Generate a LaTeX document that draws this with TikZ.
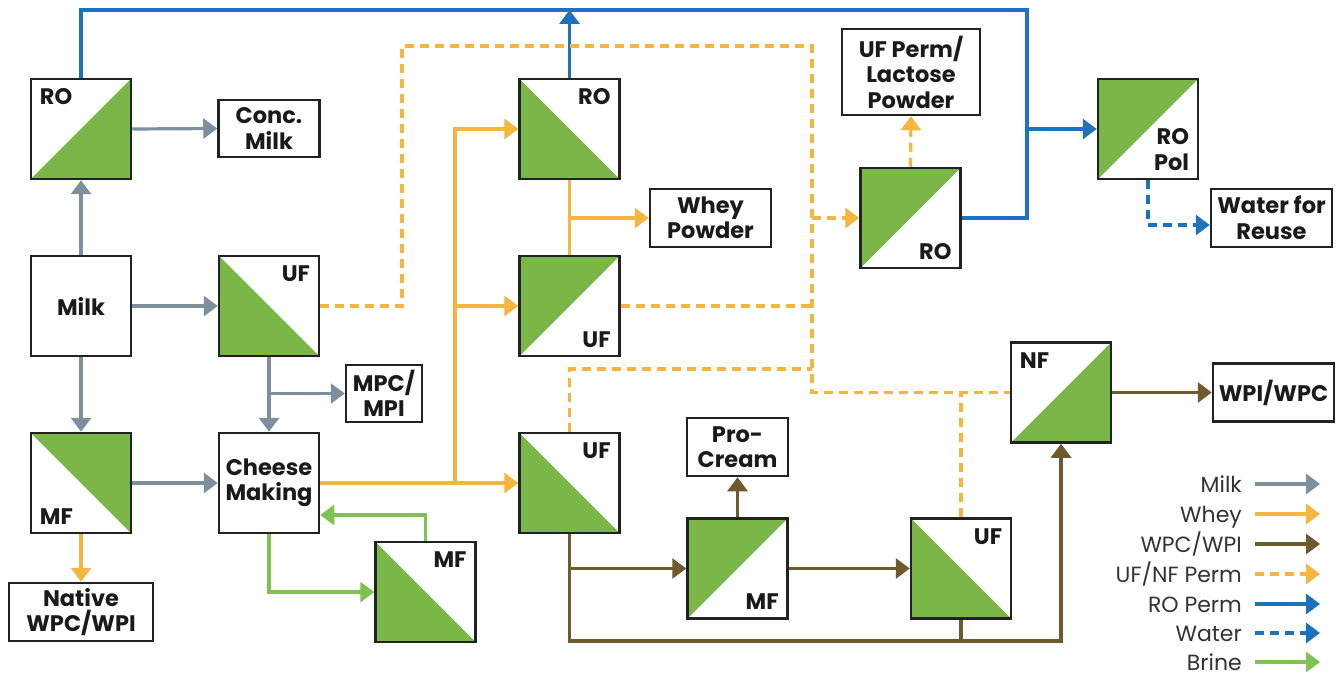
\documentclass[tikz,border=0pt]{standalone}
\usepackage{fontspec}
\setmainfont{Poppins}
\usetikzlibrary{arrows.meta,calc}
\definecolor{memg}{HTML}{7AB648}
\definecolor{boxc}{HTML}{222222}
\definecolor{txt}{HTML}{1A1A1A}
\definecolor{lgtxt}{HTML}{333333}
\definecolor{milkc}{HTML}{7D8E9C}
\definecolor{wheyc}{HTML}{F4B63F}
\definecolor{wpcc}{HTML}{6E5A2C}
\definecolor{bluec}{HTML}{1C72BB}
\definecolor{brinec}{HTML}{7EC252}
\tikzset{
  box/.style={draw=boxc, line width=2.5pt, inner sep=0pt, align=center,
    font=\bfseries\fontsize{22.5}{25.5}\selectfont, text=txt},
  mem/.style={draw=boxc, line width=2.5pt, inner sep=0pt, minimum width=100pt, minimum height=100pt},
  gSE/.style={mem, path picture={\fill[memg] (path picture bounding box.south west) -- (path picture bounding box.south east) -- (path picture bounding box.north east) -- cycle;}},
  gSW/.style={mem, path picture={\fill[memg] (path picture bounding box.north west) -- (path picture bounding box.south west) -- (path picture bounding box.south east) -- cycle;}},
  gNE/.style={mem, path picture={\fill[memg] (path picture bounding box.north west) -- (path picture bounding box.north east) -- (path picture bounding box.south east) -- cycle;}},
  gNW/.style={mem, path picture={\fill[memg] (path picture bounding box.north west) -- (path picture bounding box.north east) -- (path picture bounding box.south west) -- cycle;}},
  lbl/.style={inner sep=0pt, font=\bfseries\fontsize{22.5}{25.5}\selectfont, text=txt},
  lgl/.style={inner sep=0pt, font=\fontsize{22}{25}\selectfont, text=lgtxt, anchor=base east},
  tip/.style={-{Triangle[length=14pt,width=20pt]}},
  flow/.style={line width=3.2pt},
  milk/.style={flow, draw=milkc},
  whey/.style={flow, draw=wheyc},
  wpc/.style={flow, draw=wpcc},
  perm/.style={flow, draw=wheyc, dash pattern=on 9pt off 6pt},
  rop/.style={flow, draw=bluec},
  wat/.style={flow, draw=bluec, dash pattern=on 9pt off 6pt},
  brine/.style={flow, draw=brinec},
}
\begin{document}
\begin{tikzpicture}[x=1pt,y=-1pt]
\fill[white] (0,0) rectangle (1341,679);
\useasboundingbox (0,0) rectangle (1341,679);

% membrane units
\node[gSE] (ro1) at (81,129) {};
\node[gSW] (uf1) at (269,306) {};
\node[gNE] (mf1) at (81,483) {};
\node[gSW] (mf2) at (425.5,592) {};
\node[gSW] (ro2) at (569.5,129) {};
\node[gNW] (uf2) at (569.5,306) {};
\node[gSW] (uf3) at (569.5,483) {};
\node[gNW] (mf3) at (737.5,568.5) {};
\node[gSW] (uf4) at (961,568.5) {};
\node[gSE] (nf) at (1061,392.5) {};
\node[gNW] (ro3) at (910.5,218) {};
\node[gNW] (ropol) at (1148,129) {};

% membrane labels
\node[lbl, anchor=base west] (ro1l) at ($(ro1.north west)+(10,27)$) {RO};
\node[lbl, anchor=base east] (uf1l) at ($(uf1.north east)+(-10,27)$) {UF};
\node[lbl, anchor=base west] (mf1l) at ($(mf1.south west)+(10,-10)$) {MF};
\node[lbl, anchor=base east] (mf2l) at ($(mf2.north east)+(-10,27)$) {MF};
\node[lbl, anchor=base east] (ro2l) at ($(ro2.north east)+(-10,27)$) {RO};
\node[lbl, anchor=base east] (uf2l) at ($(uf2.south east)+(-10,-10)$) {UF};
\node[lbl, anchor=base east] (uf3l) at ($(uf3.north east)+(-10,27)$) {UF};
\node[lbl, anchor=base east] (mf3l) at ($(mf3.south east)+(-10,-10)$) {MF};
\node[lbl, anchor=base east] (uf4l) at ($(uf4.north east)+(-10,27)$) {UF};
\node[lbl, anchor=base west] (nfl) at ($(nf.north west)+(10,27)$) {NF};
\node[lbl, anchor=base east] (ro3l) at ($(ro3.south east)+(-10,-10)$) {RO};
\node[lbl, anchor=base east] (ropola) at ($(ropol.south east)+(-10,-36)$) {RO};
\node[lbl, anchor=base east] (ropolb) at ($(ropol.south east)+(-10,-10)$) {Pol};

% product boxes
\node[box, minimum width=100pt, minimum height=100pt] (milkb) at (81,306) {Milk};
\node[box, minimum width=100pt, minimum height=100pt] (cheese) at (269,483) {Cheese\\Making};
\node[box, minimum width=101pt, minimum height=57pt] (conc) at (269,128.5) {Conc.\\Milk};
\node[box, minimum width=76pt, minimum height=57pt] (mpc) at (384,393.5) {MPC/\\MPI};
\node[box, minimum width=144pt, minimum height=58pt] (native) at (81,612) {Native\\WPC/WPI};
\node[box, minimum width=121pt, minimum height=58pt] (whey) at (710.5,218) {Whey\\Powder};
\node[box, minimum width=101pt, minimum height=58pt] (procream) at (737.5,447) {Pro-\\Cream};
\node[box, minimum width=121pt, minimum height=58pt] (water) at (1271.5,218) {Water for\\Reuse};
\node[box, minimum width=121pt, minimum height=58pt] (wpi) at (1273.5,392.5) {WPI/WPC};
\node[box, minimum width=138pt, minimum height=86pt] (ufperm) at (911,72) {UF Perm/\\Lactose\\Powder};

% RO permeate (blue)
\coordinate (bTR) at (1027,10);
\draw[rop] (ro1.north) |- (bTR) |- (ro3.east);
\draw[rop, tip] (ro2.north) -- (ro2.north |- bTR);
\draw[rop, tip] (bTR |- ropol.west) -- (ropol.west);
\draw[wat, tip] (ropol.south) |- ([yshift=-7pt]water.west);

% milk (gray)
\draw[milk, tip] (milkb.north) -- (ro1.south);
\draw[milk, tip] (ro1.east) -- (conc.west);
\draw[milk, tip] (milkb.east) -- (uf1.west);
\draw[milk, tip] (milkb.south) -- (mf1.north);
\draw[milk, tip] (mf1.east) -- (cheese.west);
\draw[milk, tip] (uf1.south) -- (cheese.north);
\draw[milk, tip] (uf1.south |- mpc.west) -- (mpc.west);

% whey (yellow)
\coordinate (wJ) at (455,483);
\draw[whey, tip] (mf1.south) -- (native.north);
\draw[whey, tip] (cheese.east) -- (uf3.west);
\draw[whey, tip] (wJ) |- (ro2.west);
\draw[whey, tip] (wJ |- uf2.west) -- (uf2.west);
\draw[whey] (ro2.south) -- (uf2.north);
\draw[whey, tip] (ro2.south |- whey.west) -- (whey.west);

% UF/NF permeate (yellow dashed)
\coordinate (dA) at (402,46);
\coordinate (dB) at (812,46);
\coordinate (dC) at (812,392.5);
\coordinate (dD) at (812,369);
\draw[perm] (uf1.east) -| (dA) -- (dB) -- (dC) -- (nf.west);
\draw[perm] (uf2.east) -- (uf2.east -| dB);
\draw[perm] (uf3.north) |- (dD);
\draw[perm] (uf4.north) -- (uf4.north |- nf.west);
\draw[perm, tip] (dB |- ro3.west) -- (ro3.west);
\draw[perm, tip] (ro3.north) -- (ufperm.south);

% WPC/WPI (brown)
\coordinate (bR) at (1061,641);
\draw[wpc, tip] (uf3.south) |- (bR) -- (nf.south);
\draw[wpc, tip] (uf3.south |- mf3.west) -- (mf3.west);
\draw[wpc, tip] (mf3.north) -- (procream.south);
\draw[wpc, tip] (mf3.east) -- (uf4.west);
\draw[wpc] (uf4.south) -- (uf4.south |- bR);
\draw[wpc, tip] (nf.east) -- (wpi.west);

% brine (green)
\draw[brine, tip] (cheese.south) |- (mf2.west);
\draw[brine, tip] (mf2.north) |- ([yshift=-32pt]cheese.east);

% legend
\foreach \i/\yy/\tt in {1/484/Milk,2/514/Whey,3/544/WPC\slash WPI,4/574/UF\slash NF Perm,5/604/RO Perm,6/633/Water,7/662/Brine}{
  \node[lgl] (lg\i) at (1242,\yy+8) {\tt};
  \coordinate (ls\i) at (1255,\yy);
  \coordinate (le\i) at (1320,\yy);
}
\draw[milk, tip] (ls1) -- (le1);
\draw[whey, tip] (ls2) -- (le2);
\draw[wpc, tip] (ls3) -- (le3);
\draw[perm, tip] (ls4) -- (le4);
\draw[rop, tip] (ls5) -- (le5);
\draw[wat, tip] (ls6) -- (le6);
\draw[brine, tip] (ls7) -- (le7);
\end{tikzpicture}
\end{document}
